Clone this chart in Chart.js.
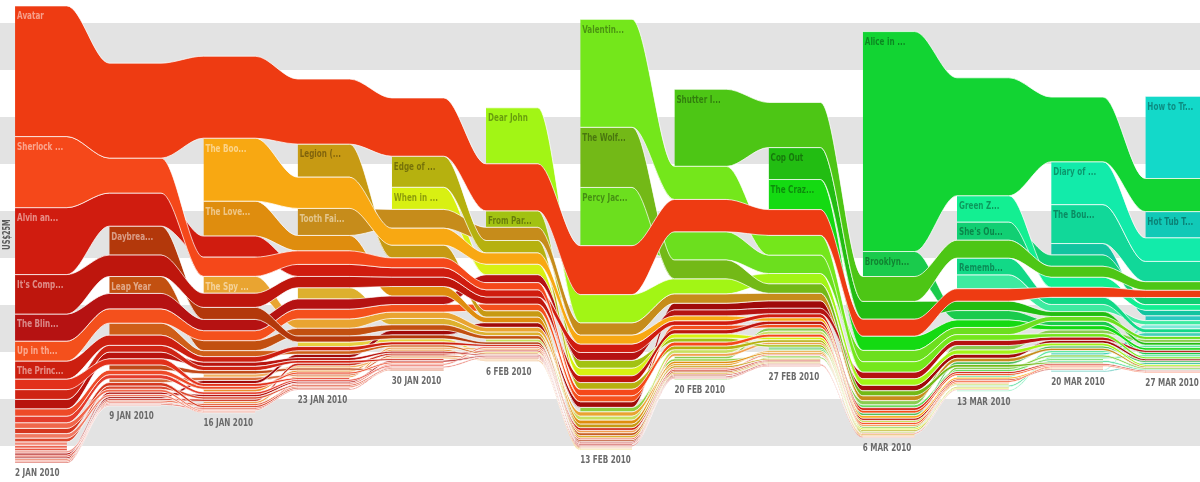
<!DOCTYPE html>
<html>
<head>
<meta charset="UTF-8">
<title>Weekend box office, January - March 2010</title>
<style>
  body { margin: 0; background: #fff; }
  #chartBox { width: 1200px; height: 482px; position: relative; }
</style>
<script src="https://cdn.jsdelivr.net/npm/chart.js@4.4.1/dist/chart.umd.min.js"></script>
</head>
<body>
<div id="chartBox"><canvas id="boxOffice" width="1200" height="482"></canvas></div>
<script>
// weekends on the chart
var weekLabels = ['2 JAN 2010', '9 JAN 2010', '16 JAN 2010', '23 JAN 2010', '30 JAN 2010', '6 FEB 2010',
  '13 FEB 2010', '20 FEB 2010', '27 FEB 2010', '6 MAR 2010', '13 MAR 2010', '20 MAR 2010', '27 MAR 2010'];

// weekend gross in US$ millions, one value per weekend (0 = not in the chart that weekend)
var avatar         = [69.5, 50.5, 43.6, 34.6, 31.0, 25.0, 26.0, 17.2, 13.7, 9.0, 6.6, 5.3, 3.8];
var sherlock       = [37.8, 18.6, 10.2, 7.2, 5.2, 3.8, 3.4, 2.0, 1.5, 1.0, 0.8, 0.6, 0];
var alvin          = [35.6, 17.6, 11.2, 6.4, 5.0, 3.8, 4.4, 2.4, 2.0, 1.4, 1.0, 0.7, 0.6];
var itsComplicated = [21.0, 11.4, 7.5, 6.0, 5.0, 3.8, 3.6, 2.2, 1.8, 1.2, 0.9, 0.6, 0];
var blindSide      = [14.4, 8.2, 6.0, 5.4, 4.6, 4.2, 4.2, 3.2, 3.0, 3.6, 2.8, 1.8, 1.2];
var upInTheAir     = [10.6, 7.6, 5.3, 5.2, 4.0, 3.6, 3.2, 2.3, 1.8, 1.4, 1.0, 0.7, 0.6];
var princessFrog   = [9.6, 5.4, 2.9, 2.2, 1.5, 1.1, 1.4, 0.8, 0.6, 0, 0, 0, 0];
var daybreakers    = [0, 15.4, 6.4, 3.2, 2.0, 1.2, 0.8, 0.6, 0, 0, 0, 0, 0];
var leapYear       = [0, 9.0, 5.3, 4.1, 2.9, 1.8, 1.3, 0.8, 0.6, 0, 0, 0, 0];
var youthInRevolt  = [0, 6.4, 3.2, 1.9, 1.2, 0.7, 0, 0, 0, 0, 0, 0, 0];
var bookOfEli      = [0, 0, 33.5, 16.6, 9.0, 6.0, 4.8, 2.6, 1.8, 1.3, 0.9, 0.6, 0];
var lovelyBones    = [0, 0, 18.6, 8.2, 5.0, 2.9, 2.0, 1.2, 0.8, 0.6, 0, 0, 0];
var spyNextDoor    = [0, 0, 9.0, 5.0, 3.4, 2.4, 2.2, 1.2, 0.9, 0.6, 0, 0, 0];
var legion         = [0, 0, 0, 17.6, 6.8, 3.4, 2.0, 1.0, 0.7, 0, 0, 0, 0];
var toothFairy     = [0, 0, 0, 14.4, 10.0, 7.0, 6.6, 5.0, 4.0, 2.6, 1.8, 1.2, 0.8];
var extraordinary  = [0, 0, 0, 6.0, 3.4, 2.0, 1.3, 0.8, 0.6, 0, 0, 0, 0];
var edgeOfDarkness = [0, 0, 0, 0, 16.5, 6.6, 3.6, 2.0, 1.3, 0.8, 0.6, 0, 0];
var whenInRome     = [0, 0, 0, 0, 11.8, 5.6, 4.0, 2.2, 1.5, 0.9, 0.6, 0, 0];
var dearJohn       = [0, 0, 0, 0, 0, 29.8, 15.0, 8.0, 5.5, 3.4, 2.2, 1.4, 0.9];
var fromParis      = [0, 0, 0, 0, 0, 8.8, 4.2, 2.2, 1.2, 0.7, 0, 0, 0];
var valentinesDay  = [0, 0, 0, 0, 0, 0, 57.4, 17.6, 10.5, 5.5, 3.0, 1.8, 1.0];
var wolfman        = [0, 0, 0, 0, 0, 0, 32.0, 10.0, 5.0, 2.6, 1.4, 0.8, 0];
var percyJackson   = [0, 0, 0, 0, 0, 0, 31.0, 15.0, 9.8, 6.0, 3.8, 2.5, 1.6];
var shutterIsland  = [0, 0, 0, 0, 0, 0, 0, 41.0, 24.0, 13.2, 9.5, 5.8, 4.6];
var copOut         = [0, 0, 0, 0, 0, 0, 0, 0, 17.0, 9.5, 5.0, 2.6, 1.4];
var theCrazies     = [0, 0, 0, 0, 0, 0, 0, 0, 16.0, 7.6, 4.0, 2.2, 1.3];
var alice          = [0, 0, 0, 0, 0, 0, 0, 0, 0, 117.0, 62.7, 34.4, 17.6];
var brooklyn       = [0, 0, 0, 0, 0, 0, 0, 0, 0, 13.3, 5.0, 2.4, 1.2];
var greenZone      = [0, 0, 0, 0, 0, 0, 0, 0, 0, 0, 14.0, 5.4, 3.0];
var shesOut        = [0, 0, 0, 0, 0, 0, 0, 0, 0, 0, 9.7, 6.0, 3.8];
var rememberMe     = [0, 0, 0, 0, 0, 0, 0, 0, 0, 0, 8.9, 3.8, 2.0];
var familyWedding  = [0, 0, 0, 0, 0, 0, 0, 0, 0, 0, 7.4, 3.8, 2.2];
var wimpyKid       = [0, 0, 0, 0, 0, 0, 0, 0, 0, 0, 0, 22.8, 12.5];
var bountyHunter   = [0, 0, 0, 0, 0, 0, 0, 0, 0, 0, 0, 20.7, 10.8];
var repoMen        = [0, 0, 0, 0, 0, 0, 0, 0, 0, 0, 0, 6.1, 2.9];
var trainDragon    = [0, 0, 0, 0, 0, 0, 0, 0, 0, 0, 0, 0, 43.7];
var hotTub         = [0, 0, 0, 0, 0, 0, 0, 0, 0, 0, 0, 0, 14.0];
// the long tail
var nine           = [5.6, 3.2, 1.5, 0.9, 0, 0, 0, 0, 0, 0, 0, 0, 0];
var morgans        = [5.2, 3.6, 2.2, 1.4, 0.9, 0, 0, 0, 0, 0, 0, 0, 0];
var invictus       = [5.0, 3.6, 2.3, 1.5, 1.0, 0.6, 0.6, 0, 0, 0, 0, 0, 0];
var oldDogs        = [3.9, 2.4, 1.5, 1.0, 0.8, 0, 0, 0, 0, 0, 0, 0, 0];
var newMoon        = [3.5, 2.2, 1.3, 0.9, 0.7, 0, 0, 0, 0, 0, 0, 0, 0];
var brothers       = [3.0, 1.4, 0.6, 0, 0, 0, 0, 0, 0, 0, 0, 0, 0];
var film2012       = [2.8, 1.8, 1.0, 0.7, 0, 0, 0, 0, 0, 0, 0, 0, 0];
var planet51       = [2.4, 1.2, 0.6, 0, 0, 0, 0, 0, 0, 0, 0, 0, 0];
var mrFox          = [2.0, 1.8, 1.2, 0.8, 0.6, 0, 0, 0, 0, 0, 0, 0, 0];
var everybodysFine = [1.8, 0, 0, 0, 0, 0, 0, 0, 0, 0, 0, 0, 0];
var ninjaAssassin  = [1.5, 0, 0, 0, 0, 0, 0, 0, 0, 0, 0, 0, 0];
var armored        = [1.4, 0, 0, 0, 0, 0, 0, 0, 0, 0, 0, 0, 0];
var theRoad        = [1.2, 0.6, 0, 0, 0, 0, 0, 0, 0, 0, 0, 0, 0];
var youngVictoria  = [1.1, 1.3, 1.3, 0.9, 0.9, 0.6, 0.7, 0.6, 0.6, 0, 0, 0, 0];
var precious       = [1.0, 0.7, 0.8, 0.6, 0.7, 0.6, 0.7, 0.6, 0.6, 0.6, 0, 0, 0];
var crazyHeart     = [0.9, 1.0, 1.6, 1.8, 2.5, 2.5, 3.0, 3.6, 4.0, 3.0, 2.2, 1.5, 1.0];
var anEducation    = [0.8, 0.8, 0.8, 0.9, 0.8, 1.0, 1.1, 0.9, 0.8, 0.7, 0.6, 0, 0];
var singleMan      = [0.7, 0.9, 1.2, 1.4, 1.0, 0.8, 0.6, 0.7, 0.6, 0, 0, 0, 0];
var imaginarium    = [0.9, 0.9, 1.1, 0.8, 0.6, 0, 0, 0, 0, 0, 0, 0, 0];
var threeIdiots    = [0, 2.8, 1.8, 1.1, 0.6, 0, 0, 0, 0, 0, 0, 0, 0];
var whiteRibbon    = [0, 2.0, 1.7, 1.0, 1.0, 0.6, 0.6, 0, 0, 0, 0, 0, 0];
var lastStation    = [0, 0, 1.2, 1.0, 1.1, 1.0, 1.4, 1.5, 1.3, 1.0, 0.8, 0, 0];
var fishTank       = [0, 0, 1.8, 1.2, 1.0, 0.6, 0, 0, 0, 0, 0, 0, 0];
var messenger      = [0, 0, 1.5, 1.1, 1.1, 0.6, 0.6, 0, 0, 0, 0, 0, 0];
var creation       = [0, 0, 0, 2.4, 1.7, 0.8, 0.6, 0, 0, 0, 0, 0, 0];
var oscarShorts    = [0, 0, 0, 0, 0, 1.6, 2.2, 2.0, 1.6, 1.2, 0.8, 0, 0];
var nameIsKhan     = [0, 0, 0, 0, 0, 0, 2.4, 1.3, 0.8, 0, 0, 0, 0];
var ghostWriter    = [0, 0, 0, 0, 0, 0, 0, 1.4, 1.8, 2.2, 2.4, 2.0, 1.6];
var ajami          = [0, 0, 0, 0, 0, 0, 0, 0.6, 0.8, 1.0, 1.2, 1.0, 0.8];
var aProphet       = [0, 0, 0, 0, 0, 0, 0, 0, 1.0, 1.4, 1.5, 1.3, 1.0];
var hurtLocker     = [0, 0, 0, 0, 0, 0, 0, 0, 1.0, 1.6, 1.2, 0.9, 0];
var secretEyes     = [0, 0, 0, 0, 0, 0, 0, 0, 0, 0, 1.0, 1.2, 1.4];
var cityIsland     = [0, 0, 0, 0, 0, 0, 0, 0, 0, 0, 0.6, 1.0, 1.2];
var mother         = [0, 0, 0, 0, 0, 0, 0, 0, 0, 0, 0.8, 0.9, 0.7];
var runaways       = [0, 0, 0, 0, 0, 0, 0, 0, 0, 0, 0, 1.2, 2.0];
var greenberg      = [0, 0, 0, 0, 0, 0, 0, 0, 0, 0, 0, 0.6, 2.2];
var dragonTattoo   = [0, 0, 0, 0, 0, 0, 0, 0, 0, 0, 0, 0.6, 1.0];
var chloe          = [0, 0, 0, 0, 0, 0, 0, 0, 0, 0, 0, 0, 2.6];

// label shown in the chart (already cut down the way the original does), series, fill colour
// first in the list is drawn on top
var filmNames = ['Avatar', 'Alice in ...', 'Valentin...', 'How to Tr...', 'Shutter I...', 'Sherlock ...',
  'Alvin an...', 'The Boo...', 'The Wolf...', 'Percy Jac...', 'Dear John', 'Diary of ...', 'The Bou...',
  "It's Comp...", 'The Love...', 'Legion (...', 'Edge of ...', 'Cop Out', 'The Craz...', 'Daybrea...',
  'The Blin...', 'Green Z...', 'Tooth Fai...', 'Hot Tub T...', 'When in ...', 'Brooklyn...', 'Up in th...',
  "She's Ou...", 'The Princ...', 'Leap Year', 'The Spy ...', 'Rememb...', 'From Par...', 'Our Family Wedding',
  'Youth in Revolt', 'Repo Men', 'Extraordinary Measures',
  'Nine', 'Did You Hear About the Morgans?', 'Invictus', 'Old Dogs', 'New Moon', 'Brothers', '2012',
  'Planet 51', 'Fantastic Mr. Fox', "Everybody's Fine", 'Ninja Assassin', 'Armored', 'The Road',
  'The Young Victoria', 'Precious', 'Crazy Heart', 'An Education', 'A Single Man', 'The Imaginarium',
  '3 Idiots', 'The White Ribbon', 'The Last Station', 'Fish Tank', 'The Messenger', 'Creation',
  'Oscar Shorts', 'My Name Is Khan', 'The Ghost Writer', 'Ajami', 'A Prophet', 'The Hurt Locker',
  'The Secret in Their Eyes', 'City Island', 'Mother', 'The Runaways', 'Greenberg',
  'The Girl with the Dragon Tattoo', 'Chloe'];
var filmGross = [avatar, alice, valentinesDay, trainDragon, shutterIsland, sherlock,
  alvin, bookOfEli, wolfman, percyJackson, dearJohn, wimpyKid, bountyHunter,
  itsComplicated, lovelyBones, legion, edgeOfDarkness, copOut, theCrazies, daybreakers,
  blindSide, greenZone, toothFairy, hotTub, whenInRome, brooklyn, upInTheAir,
  shesOut, princessFrog, leapYear, spyNextDoor, rememberMe, fromParis, familyWedding,
  youthInRevolt, repoMen, extraordinary,
  nine, morgans, invictus, oldDogs, newMoon, brothers, film2012,
  planet51, mrFox, everybodysFine, ninjaAssassin, armored, theRoad,
  youngVictoria, precious, crazyHeart, anEducation, singleMan, imaginarium,
  threeIdiots, whiteRibbon, lastStation, fishTank, messenger, creation,
  oscarShorts, nameIsKhan, ghostWriter, ajami, aProphet, hurtLocker,
  secretEyes, cityIsland, mother, runaways, greenberg,
  dragonTattoo, chloe];
var filmColors = ['#ee3b12', '#12d433', '#74e71b', '#13d9c9', '#4dc615', '#f5481a',
  '#d01c0f', '#f8a812', '#73b917', '#6cdf1e', '#a2f515', '#12ebaa', '#11d899',
  '#be160d', '#df8d0e', '#c79a13', '#b6b10f', '#22bd12', '#14da12', '#b3380b',
  '#b51212', '#13ef92', '#c68c1b', '#11c9b7', '#d8f012', '#1acb4c', '#f4501c',
  '#11cf73', '#cc1f10', '#c25010', '#e9a431', '#12d987', '#a2c212', '#3eeaa0',
  '#cf5e18', '#12c4a0', '#ddb02e',
  '#e2301a', '#cf2414', '#b8140e', '#ee4a28', '#e43c2c', '#f0664a', '#d4361e',
  '#f07a62', '#dc4a30', '#f28a78', '#ec6450', '#e85844', '#f0968a',
  '#b01210', '#e24e3c', '#a00a0a', '#ee7a68', '#cc2c1c', '#e8603e',
  '#c04818', '#d86a3a', '#f0a050', '#f2b060', '#e89030', '#e8d040',
  '#c8e060', '#90d040', '#8acc50', '#7ed040', '#50c060', '#6adc60',
  '#60e8a0', '#5ee8a8', '#40d890', '#40d0b8', '#80e8d8',
  '#30b8a8', '#2cc8c0'];

var COL = 0.55;          // part of a week the column stays flat before it moves to the next
var X_MIN = -0.16, X_MAX = 12.58;
var BAND = 25;           // grey band height, US$M
var bandStarts = [-112.5, -62.5, -12.5, 37.5, 87.5];
var LABEL_MIN = 8;       // films smaller than this get no name
var SQUEEZE = 0.73;      // the original uses a condensed face, so text is narrowed

// stack every weekend, biggest film on top, centred on zero
var tops = filmGross.map(function () { return []; });
var weekTotal = [];
for (var w = 0; w < weekLabels.length; w++) {
  var order = [];
  var total = 0;
  for (var f = 0; f < filmGross.length; f++) {
    if (filmGross[f][w] > 0) { order.push(f); total += filmGross[f][w]; }
  }
  order.sort(function (a, b) { return filmGross[b][w] - filmGross[a][w]; });
  weekTotal.push(total);
  var level = total / 2;
  order.forEach(function (f) { tops[f][w] = level; level -= filmGross[f][w]; });
}

var lastWeek = weekLabels.length - 1;
var datasets = [];
filmGross.forEach(function (gross, f) {
  var upper = [], lower = [];
  for (var w = 0; w < gross.length; w++) {
    if (gross[w] > 0) {
      var end = w === lastWeek ? X_MAX : w + COL;
      upper.push({ x: w, y: tops[f][w] }, { x: end, y: tops[f][w] });
      lower.push({ x: w, y: tops[f][w] - gross[w] }, { x: end, y: tops[f][w] - gross[w] });
    } else if (w > 0 && gross[w - 1] > 0) {
      upper.push({ x: w, y: null });
      lower.push({ x: w, y: null });
    }
  }
  datasets.push({ label: filmNames[f], data: upper, fill: false });
  datasets.push({ label: filmNames[f] + ' ', data: lower, fill: '-1', backgroundColor: filmColors[f] });
});

function hueOf(hex) {
  var r = parseInt(hex.substr(1, 2), 16) / 255, g = parseInt(hex.substr(3, 2), 16) / 255, b = parseInt(hex.substr(5, 2), 16) / 255;
  var max = Math.max(r, g, b), min = Math.min(r, g, b), d = max - min;
  if (d === 0) return 0;
  var h = max === r ? ((g - b) / d) % 6 : max === g ? (b - r) / d + 2 : (r - g) / d + 4;
  h *= 60;
  return h < 0 ? h + 360 : h;
}

function narrowText(ctx, text, px, py) {
  ctx.save();
  ctx.translate(px, py);
  ctx.scale(SQUEEZE, 1);
  ctx.fillText(text, 0, 0);
  ctx.restore();
}

var FONT = "'DejaVu Sans Condensed', 'DejaVu Sans', sans-serif";

var bandPlugin = {
  id: 'greyBands',
  beforeDatasetsDraw: function (chart) {
    var ctx = chart.ctx, y = chart.scales.y, area = chart.chartArea;
    ctx.save();
    ctx.fillStyle = '#e3e3e3';
    bandStarts.forEach(function (v) {
      var top = y.getPixelForValue(v + BAND), bottom = y.getPixelForValue(v);
      ctx.fillRect(area.left, top, area.right - area.left, bottom - top);
    });
    ctx.restore();
  }
};

var labelPlugin = {
  id: 'labels',
  afterDatasetsDraw: function (chart) {
    var ctx = chart.ctx, x = chart.scales.x, y = chart.scales.y;
    ctx.save();
    // film names, in the weekend each film first shows up
    ctx.font = 'bold 11px ' + FONT;
    ctx.textBaseline = 'top';
    filmGross.forEach(function (gross, f) {
      for (var w = 0; w < gross.length; w++) {
        if (gross[w] > 0) {
          if (gross[w] >= LABEL_MIN) {
            ctx.fillStyle = hueOf(filmColors[f]) < 42 ? 'rgba(255,255,255,0.5)' : 'rgba(0,0,0,0.36)';
            narrowText(ctx, filmNames[f], x.getPixelForValue(w) + 2, y.getPixelForValue(tops[f][w]) + 5);
          }
          break;
        }
      }
    });
    // weekend names under each column
    ctx.fillStyle = '#6a6a6a';
    weekLabels.forEach(function (label, w) {
      narrowText(ctx, label, x.getPixelForValue(w), y.getPixelForValue(-weekTotal[w] / 2) + 5);
    });
    // scale note
    ctx.translate(7, y.getPixelForValue(0));
    ctx.rotate(-Math.PI / 2);
    ctx.scale(SQUEEZE, 1);
    ctx.textAlign = 'center';
    ctx.textBaseline = 'middle';
    ctx.font = 'bold 10px ' + FONT;
    ctx.fillStyle = '#5a5a5a';
    ctx.fillText('US$25M', 0, 0);
    ctx.restore();
  }
};

new Chart(document.getElementById('boxOffice'), {
  type: 'line',
  data: { datasets: datasets },
  options: {
    responsive: false,
    animation: false,
    events: [],
    layout: { padding: 0 },
    elements: {
      point: { radius: 0, hoverRadius: 0 },
      line: { cubicInterpolationMode: 'monotone', borderWidth: 0.8, borderColor: 'rgba(255,255,255,0.9)' }
    },
    plugins: { legend: { display: false }, tooltip: { enabled: false } },
    scales: {
      x: { type: 'linear', display: false, min: X_MIN, max: X_MAX },
      y: { type: 'linear', display: false, min: -131.65, max: 124.75 }
    }
  },
  plugins: [bandPlugin, labelPlugin]
});
</script>
</body>
</html>
